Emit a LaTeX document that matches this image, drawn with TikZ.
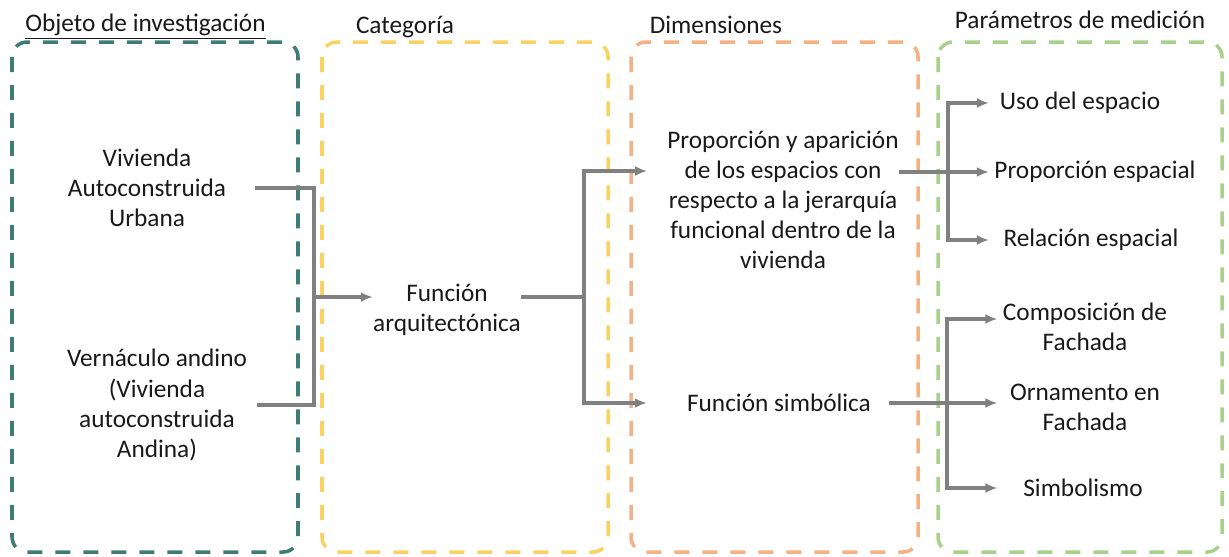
\documentclass[tikz,border=0pt]{standalone}
\usepackage{fontspec}
\setmainfont{Carlito}
\usepackage{tikz}
\usetikzlibrary{arrows.meta,positioning}
\definecolor{objcol}{RGB}{64,124,118}
\definecolor{catcol}{RGB}{250,210,100}
\definecolor{dimcol}{RGB}{244,177,131}
\definecolor{parcol}{RGB}{169,209,142}
\definecolor{linecol}{RGB}{128,128,128}
\tikzstyle{frame} = [draw, line width=2pt, dash pattern=on 0.3cm off 0.26cm,
    rounded corners=0.3cm]
\tikzstyle{txt} = [align=center, inner sep=0pt, text=black!90]
\tikzstyle{param} = [txt, inner sep=3pt]
\tikzstyle{line} = [draw, linecol, line width=2pt]
\tikzstyle{arrow} = [line, -{Latex[length=0.24cm, width=0.2cm]}]

\begin{document}
\begin{tikzpicture}[x=0.02cm, y=-0.02cm, font=\fontsize{14.4}{17.1}\selectfont]
    \useasboundingbox (0,0) rectangle (1229,556);
    % Frames
    \draw [frame, objcol] (12,42) rectangle (298,552);
    \draw [frame, catcol] (322,42) rectangle (608,552);
    \draw [frame, dimcol] (631,42) rectangle (918,552);
    \draw [frame, parcol] (938,42) rectangle (1222,552);
    % Headings
    \node [txt, anchor=west] (hobj) at (25,27) {\underline{Objeto de investigación}};
    \node [txt] (hcat) at (405,27) {Categoría};
    \node [txt] (hdim) at (716,25) {Dimensiones};
    \node [txt] (hpar) at (1080,20) {Parámetros de medición};
    % Place nodes
    \node [txt] (urb) at (147,188) {Vivienda\\ Autoconstruida\\ Urbana};
    \node [txt] (ver) at (157,405) {Vernáculo andino\\ (Vivienda\\ autoconstruida\\ Andina)};
    \node [txt] (fa) at (447,310) {Función\\ arquitectónica};
    \node [txt] (prop) at (783,200) {Proporción y aparición\\ de los espacios con\\ respecto a la jerarquía\\ funcional dentro de la\\ vivienda};
    \node [txt] (fs) at (779,403) {Función simbólica};
    \node [param] (uso) at (1080,103) {Uso del espacio};
    \node [param] (pe) at (1095,172) {Proporción espacial};
    \node [param] (rel) at (1091,240) {Relación espacial};
    \node [param] (comp) at (1085,327) {Composición de\\ Fachada};
    \node [param] (orn) at (1085,407) {Ornamento en\\ Fachada};
    \node [param] (sim) at (1083,488) {Simbolismo};
    % Draw edges
    \coordinate (j1) at (314,297);
    \path [line] ([xshift=0.58cm]urb.east) -| (j1);
    \path [line] ([xshift=0.2cm]ver.east) -| (j1);
    \path [arrow] (j1) -- (j1 -| fa.west);
    \coordinate (j2) at (584,297);
    \path [line] (fa.east |- j2) -- (j2);
    \path [arrow] (j2) |- ([shift={(-20,-29)}]prop.west);
    \path [arrow] (j2) |- ([xshift=-0.8cm]fs.west);
    \coordinate (j3) at (948,172);
    \path [arrow] (prop.east |- pe.west) -- (pe.west);
    \path [arrow] (j3) |- (uso.west -| pe.west);
    \path [arrow] (j3) |- (rel.west -| pe.west);
    \coordinate (j4) at (947,401);
    \path [arrow] ([xshift=0.35cm]fs.east) -- (fs.east -| comp.west);
    \path [arrow] (j4) |- ([shift={(0,-8)}]comp.west);
    \path [arrow] (j4) |- (sim.west -| comp.west);
\end{tikzpicture}
\end{document}
